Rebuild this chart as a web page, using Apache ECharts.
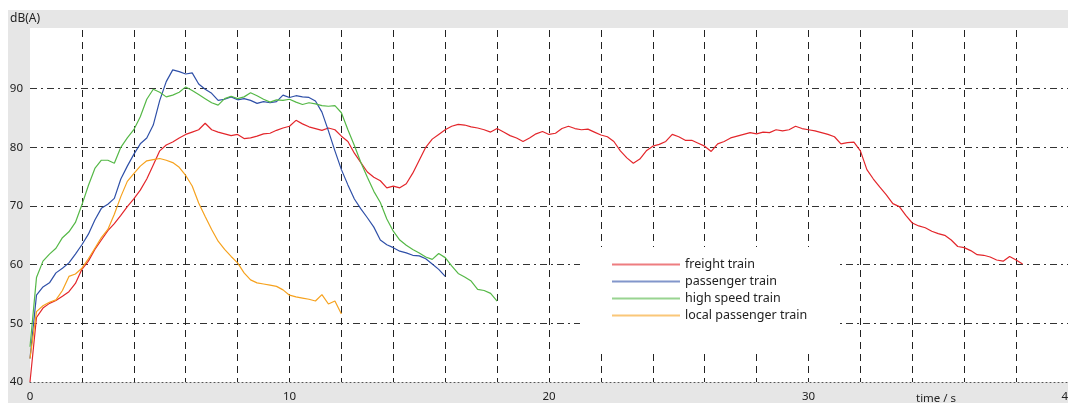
<!DOCTYPE html>
<html>
<head>
<meta charset="utf-8">
<script src="https://cdn.jsdelivr.net/npm/echarts@6/dist/echarts.min.js"></script>
<style>
  html, body { margin: 0; padding: 0; background: #ffffff; }
  #chart { width: 1068px; height: 403px; }
</style>
</head>
<body>
<div id="chart"></div>
<script>
// sample spacing of the measured level series (seconds)
const STEP = 0.25;

const seriesNames = ['freight train', 'passenger train', 'high speed train', 'local passenger train'];

const freightTrain = [
  40, 51.0, 52.6, 53.4, 53.9, 54.6, 55.4, 56.8, 59.2, 60.6, 62.6, 64.2, 65.8, 67.0, 68.4, 69.9,
  71.2, 72.7, 74.6, 77.0, 79.4, 80.4, 80.9, 81.6, 82.2, 82.6, 83.0, 84.1, 83.0, 82.6, 82.3, 82.0,
  82.2, 81.5, 81.6, 81.9, 82.3, 82.4, 82.9, 83.3, 83.6, 84.6, 84.0, 83.5, 83.2, 82.9, 83.3, 83.0,
  81.9, 81.0, 79.0, 77.4, 75.8, 74.9, 74.3, 73.1, 73.4, 73.1, 73.8, 75.6, 77.8, 80.0, 81.4, 82.2,
  83.0, 83.6, 83.9, 83.8, 83.5, 83.3, 83.0, 82.6, 83.2, 82.6, 82.0, 81.6, 81.0, 81.6, 82.3, 82.7,
  82.2, 82.4, 83.2, 83.6, 83.2, 83.0, 83.1, 82.6, 82.1, 81.8, 81.0, 79.4, 78.2, 77.3, 78.0, 79.4,
  80.2, 80.5, 81.0, 82.2, 81.8, 81.2, 81.2, 80.7, 80.2, 79.3, 80.6, 81.0, 81.6, 81.9, 82.2, 82.5,
  82.3, 82.6, 82.5, 83.0, 82.8, 83.0, 83.6, 83.2, 83.0, 82.8, 82.5, 82.2, 81.8, 80.6, 80.8, 80.9,
  79.4, 76.2, 74.6, 73.2, 71.9, 70.4, 69.9, 68.4, 67.1, 66.6, 66.3, 65.7, 65.3, 65.0, 64.2, 63.1,
  62.9, 62.4, 61.7, 61.6, 61.3, 60.8, 60.6, 61.4, 60.8, 60.1
];

const passengerTrain = [
  44, 54.8, 56.2, 56.9, 58.6, 59.4, 60.3, 61.8, 63.4, 65.2, 67.6, 69.6, 70.3, 71.3, 74.6, 76.8,
  78.8, 80.6, 81.6, 83.8, 88.0, 91.2, 93.2, 92.9, 92.5, 92.7, 90.8, 89.9, 89.2, 88.0, 88.2, 88.6,
  88.1, 88.3, 88.0, 87.5, 87.8, 87.6, 87.8, 88.9, 88.5, 88.8, 88.6, 88.5, 87.9, 86.0, 82.8, 79.4,
  76.2, 73.6, 71.2, 69.5, 68.0, 66.4, 64.2, 63.4, 62.9, 62.3, 62.0, 61.6, 61.5, 61.0, 60.1, 59.2,
  58.0
];

const highSpeedTrain = [
  46, 57.8, 60.6, 61.8, 62.8, 64.6, 65.6, 67.2, 70.2, 73.5, 76.4, 77.8, 77.8, 77.3, 80.0, 81.6,
  83.0, 85.2, 88.2, 89.9, 89.4, 88.6, 88.9, 89.4, 90.3, 89.7, 89.0, 88.3, 87.6, 87.2, 88.3, 88.7,
  88.3, 88.6, 89.3, 88.8, 88.2, 87.7, 88.1, 88.0, 88.2, 87.7, 87.3, 87.6, 87.4, 87.1, 87.0, 87.1,
  85.9, 83.0, 80.3, 77.4, 74.9, 72.5, 70.6, 67.8, 65.7, 64.2, 63.3, 62.6, 62.0, 61.3, 60.9, 61.9,
  61.2, 59.8, 58.5, 57.9, 57.2, 55.8, 55.6, 55.1, 53.8
];

const localPassengerTrain = [
  44, 52.0, 53.0, 53.6, 54.0, 55.6, 58.0, 58.4, 59.4, 61.0, 62.8, 64.6, 66.0, 68.6, 71.6, 74.2,
  75.5, 76.8, 77.7, 77.9, 78.1, 77.8, 77.4, 76.6, 75.2, 73.4, 70.5, 68.2, 66.0, 64.0, 62.6, 61.4,
  60.3, 58.6, 57.4, 56.9, 56.7, 56.5, 56.3, 55.7, 54.8, 54.5, 54.3, 54.1, 53.8, 54.9, 53.3, 53.8,
  51.6
];

const seriesValues = [freightTrain, passengerTrain, highSpeedTrain, localPassengerTrain];
const seriesColors = ['#e3262b', '#2f50a8', '#55b847', '#f6a21e'];

const xAxisName = 'time / s';
const yAxisName = 'dB(A)';

const FONT = '"Noto Sans", "Open Sans", sans-serif';

function toPairs(arr) {
  return arr.map(function (v, i) { return [i * STEP, v]; });
}

const chart = echarts.init(document.getElementById('chart'), null, { renderer: 'canvas' });

chart.setOption({
  animation: false,
  backgroundColor: '#ffffff',
  graphic: {
    elements: [
      { type: 'rect', z: -20, shape: { x: 8, y: 10, width: 1060, height: 393 }, style: { fill: '#e6e6e6' }, silent: true },
      { type: 'rect', z: -19, shape: { x: 30, y: 28, width: 1038, height: 354 }, style: { fill: '#ffffff' }, silent: true },
      { type: 'text', z: 10, x: 10, y: 19, style: { text: yAxisName, fontSize: 12, fontFamily: FONT, fill: '#222', verticalAlign: 'middle', align: 'left' } },
      { type: 'text', z: 10, x: 916, y: 399, style: { text: xAxisName, fontSize: 11.5, fontFamily: FONT, fill: '#222', verticalAlign: 'middle', align: 'left' } }
    ]
  },
  grid: { left: 30, right: 0, top: 30, bottom: 21, containLabel: false, outerBoundsMode: 'none' },
  legend: {
    data: seriesNames,
    orient: 'vertical',
    left: 580,
    top: 247,
    padding: [11, 30, 30, 32],
    backgroundColor: '#ffffff',
    icon: 'path://M0,0 L68,0 L68,2 L0,2 Z',
    itemWidth: 68,
    itemHeight: 14,
    itemGap: 4,
    z: 6,
    itemStyle: { opacity: 0.6 },
    textStyle: { fontSize: 12.5, fontFamily: FONT, color: '#222' }
  },
  xAxis: {
    type: 'value',
    min: 0,
    max: 40,
    interval: 2,
    axisLine: { show: true, onZero: false, lineStyle: { color: '#555', type: [1, 3], width: 1 } },
    axisTick: { show: false },
    axisLabel: {
      margin: 9,
      fontSize: 11.5,
      fontFamily: FONT,
      color: '#222',
      formatter: function (v) { return v % 10 === 0 ? String(v) : ''; }
    },
    splitLine: {
      show: true,
      showMinLine: false,
      showMaxLine: false,
      lineStyle: { color: '#222', type: [7, 5], width: 1 }
    }
  },
  yAxis: {
    type: 'value',
    min: 40,
    max: 100,
    interval: 10,
    axisLine: { show: false },
    axisTick: { show: false },
    axisLabel: {
      margin: 7,
      fontSize: 11.5,
      fontFamily: FONT,
      color: '#222',
      formatter: function (v) { return v >= 100 ? '' : String(v); }
    },
    splitLine: {
      show: true,
      showMinLine: false,
      showMaxLine: false,
      lineStyle: { color: '#333', type: [7, 4, 2, 4], width: 1 }
    }
  },
  series: seriesNames.map(function (name, i) {
    return {
      name: name,
      type: 'line',
      data: toPairs(seriesValues[i]),
      symbol: 'none',
      showSymbol: false,
      smooth: false,
      z: 3,
      color: seriesColors[i],
      lineStyle: { color: seriesColors[i], width: 1.2 }
    };
  })
});
</script>
</body>
</html>
